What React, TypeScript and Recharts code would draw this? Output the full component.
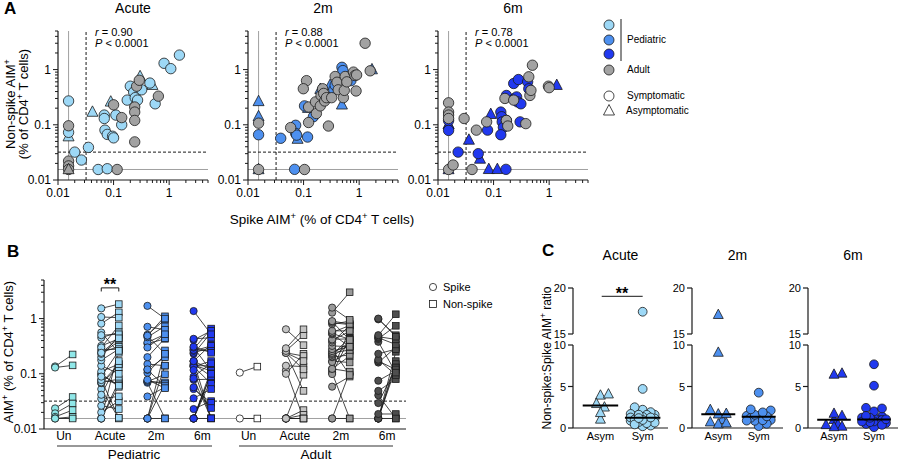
import React from "react";
import { ScatterChart, Scatter, XAxis, YAxis, ReferenceLine } from "recharts";

const FONT = "'Liberation Sans', Arial, Helvetica, sans-serif";
const INK = "#1a1a1a";

// limits of detection / positivity (% of CD4+ T cells)
const LOD = 0.0155;
const POS_CUTOFF = 0.032;

const ACUTE_BLUE = "#9dd8f6";
const MID_BLUE = "#4d90ef";
const DEEP_BLUE = "#2139ef";
const ADULT_GREY = "#a2a2a2";
const UN_CYAN = "#8fe7e8";
const ADULT_TONES = ["#ffffff", "#c4c4c4", "#999999", "#4e4e4e"];

type Pair = [number, number]; // [spike, non-spike]

// pediatric subjects, by time point
const PED_ACUTE_SYM: Pair[] = [
  [0.0155, 0.27], [0.0155, 0.073], [0.02, 0.032], [0.0264, 0.023], [0.0353, 0.039],
  [0.0528, 0.0155], [0.077, 0.016], [0.068, 0.15], [0.068, 0.13], [0.07, 0.08],
  [0.077, 0.067], [0.096, 0.062], [0.1, 0.058], [0.11, 0.15], [0.14, 0.1],
  [0.176, 0.28], [0.2, 0.5], [0.23, 0.39], [0.245, 0.31], [0.27, 0.28],
  [0.32, 0.43], [0.45, 0.57], [0.56, 0.24], [0.81, 1.3], [1.07, 1.04], [1.53, 1.83],
];
const PED_ACUTE_ASYM: Pair[] = [
  [0.0155, 0.061], [0.0417, 0.17], [0.089, 0.26], [0.3, 0.75], [0.5, 0.52], [0.24, 0.44],
];
const PED_2M_SYM: Pair[] = [
  [0.0155, 0.066], [0.0388, 0.057], [0.069, 0.0156], [0.072, 0.098], [0.072, 0.07],
  [0.075, 0.065], [0.104, 0.22], [0.118, 0.06], [0.15, 0.14], [0.35, 0.43],
  [0.37, 0.52], [0.46, 0.73], [0.49, 1.1], [0.51, 0.96], [0.71, 0.63],
];
const PED_2M_ASYM: Pair[] = [
  [0.0155, 0.265], [0.0155, 0.141], [0.0155, 0.0155], [0.078, 0.055],
  [0.12, 0.2], [0.2, 0.44], [0.3, 0.52], [0.49, 0.23], [1.7, 1.0],
];
const PED_6M_SYM: Pair[] = [
  [0.0155, 0.119], [0.0155, 0.079], [0.023, 0.032], [0.053, 0.03], [0.078, 0.08],
  [0.167, 0.0156], [0.135, 0.17], [0.14, 0.14], [0.143, 0.113], [0.15, 0.09],
  [0.135, 0.066], [0.17, 0.12], [0.17, 0.34], [0.23, 0.56], [0.24, 0.3],
  [0.26, 0.32], [0.28, 0.66], [0.27, 0.26], [0.3, 0.113], [0.31, 0.24],
  [0.41, 0.6], [0.43, 0.45],
];
const PED_6M_ASYM: Pair[] = [
  [0.0155, 0.102], [0.0155, 0.1], [0.0155, 0.0155], [0.036, 0.053], [0.057, 0.024],
  [0.089, 0.155], [0.082, 0.0156], [0.117, 0.0156], [1.37, 0.52],
];

// adult subjects, by time point
const ADULT_ACUTE: Pair[] = [
  [0.0155, 0.096], [0.0155, 0.022], [0.0155, 0.018], [0.0155, 0.0155], [0.116, 0.0155],
  [0.1, 0.23], [0.14, 0.135], [0.24, 0.21], [0.24, 0.17], [0.24, 0.12],
  [0.24, 0.049], [0.26, 0.5], [0.29, 0.64], [0.64, 0.33],
];
const ADULT_ACUTE_ASYM: Pair[] = [[0.0155, 0.0155]];
const ADULT_2M: Pair[] = [
  [0.0155, 0.107], [0.0155, 0.0155], [0.0585, 0.089], [0.104, 0.0155], [0.113, 0.63],
  [0.099, 0.45], [0.123, 0.21], [0.123, 0.11], [0.17, 0.16], [0.164, 0.26],
  [0.2, 0.22], [0.206, 0.34], [0.22, 0.45], [0.23, 0.37], [0.24, 0.27],
  [0.258, 0.31], [0.28, 0.095], [0.32, 0.31], [0.37, 0.75], [0.4, 0.59],
  [0.42, 0.43], [0.52, 0.31], [0.54, 0.42], [0.56, 0.75], [0.6, 0.6],
  [0.79, 0.9], [0.84, 0.78], [0.88, 0.41], [0.9, 0.8], [1.28, 3.0], [1.58, 0.95],
];
const ADULT_6M: Pair[] = [
  [0.0155, 0.25], [0.0155, 0.17], [0.0155, 0.15], [0.0155, 0.13], [0.0155, 0.0155],
  [0.0187, 0.0187], [0.0295, 0.13], [0.041, 0.0155], [0.049, 0.08], [0.075, 0.113],
  [0.16, 0.3], [0.17, 0.12], [0.18, 0.095], [0.23, 0.28], [0.38, 0.105],
  [0.43, 0.74], [0.45, 0.34], [0.47, 0.42], [0.5, 1.2], [0.97, 0.5], [1.0, 0.47],
];

// unexposed donors (panel B only)
const PED_UN: Pair[] = [
  [0.136, 0.224], [0.13, 0.142], [0.0236, 0.038], [0.0192, 0.029],
  [0.0166, 0.022], [0.0155, 0.0166], [0.0155, 0.0155],
];
const ADULT_UN: Pair[] = [[0.105, 0.135], [0.0155, 0.0155]];

const TIMEPOINTS = ["Acute", "2m", "6m"];
const R_VALUES = ["0.90", "0.88", "0.78"];
const B_CATEGORIES = ["Un", "Acute", "2m", "6m", "Un", "Acute", "2m", "6m"];
const C_CATEGORIES = ["Asym", "Sym"];

const PED_SYM = [PED_ACUTE_SYM, PED_2M_SYM, PED_6M_SYM];
const PED_ASYM = [PED_ACUTE_ASYM, PED_2M_ASYM, PED_6M_ASYM];
const ADULT = [ADULT_ACUTE, ADULT_2M, ADULT_6M];
const ADULT_ASYM: Pair[][] = [ADULT_ACUTE_ASYM, [], []];
const PED_TONES = [ACUTE_BLUE, MID_BLUE, DEEP_BLUE];

const B_SETS = [
  { pairs: PED_UN, fill: UN_CYAN },
  { pairs: [...PED_ACUTE_SYM, ...PED_ACUTE_ASYM], fill: ACUTE_BLUE },
  { pairs: [...PED_2M_SYM, ...PED_2M_ASYM], fill: MID_BLUE },
  { pairs: [...PED_6M_SYM, ...PED_6M_ASYM], fill: DEEP_BLUE },
  { pairs: ADULT_UN, fill: ADULT_TONES[0] },
  { pairs: [...ADULT_ACUTE, ...ADULT_ACUTE_ASYM], fill: ADULT_TONES[1] },
  { pairs: ADULT_2M, fill: ADULT_TONES[2] },
  { pairs: ADULT_6M, fill: ADULT_TONES[3] },
];

const LOG_DOMAIN: [number, number] = [0.01, 5];
const LOG_MAJOR = [0.01, 0.1, 1];
const LOG_TICKS = LOG_MAJOR.flatMap((d) =>
  [1, 2, 3, 4, 5, 6, 7, 8, 9].map((k) => +(k * d).toPrecision(2))
).filter((v) => v <= LOG_DOMAIN[1]);

const AXIS_LINE = { stroke: INK, strokeWidth: 1.2 };
const txt = { fontFamily: FONT, fill: "#000" };

const pts = (pairs: Pair[]) => pairs.map(([x, y]) => ({ x, y }));

const circle = (fill: string, r: number) => (p: any) => (
  <circle cx={p.cx} cy={p.cy} r={r} fill={fill} stroke={INK} strokeWidth={0.8} />
);
const square = (fill: string, s: number) => (p: any) => (
  <rect x={p.cx - s / 2} y={p.cy - s / 2} width={s} height={s} fill={fill} stroke={INK} strokeWidth={0.8} />
);
const triangle = (fill: string, s: number) => (p: any) => (
  <path
    d={`M${p.cx},${p.cy - 0.62 * s}L${p.cx + 0.55 * s},${p.cy + 0.42 * s}L${p.cx - 0.55 * s},${p.cy + 0.42 * s}Z`}
    fill={fill}
    stroke={INK}
    strokeWidth={0.8}
  />
);
const nothing = () => <g />;

const LogTickX = (p: any) => {
  const v = p.payload.value;
  const major = LOG_MAJOR.includes(v);
  return (
    <g>
      <line x1={p.x} x2={p.x} y1={p.y} y2={p.y + (major ? 5 : 3)} stroke={INK} strokeWidth={1} />
      {major && (
        <text x={p.x} y={p.y + 17} textAnchor="middle" fontSize={12} {...txt}>
          {String(v)}
        </text>
      )}
    </g>
  );
};

const LogTickY = (p: any) => {
  const v = p.payload.value;
  const major = LOG_MAJOR.includes(v);
  return (
    <g>
      <line x1={p.x - (major ? 5 : 3)} x2={p.x} y1={p.y} y2={p.y} stroke={INK} strokeWidth={1} />
      {major && (
        <text x={p.x - 7} y={p.y + 4} textAnchor="end" fontSize={12} {...txt}>
          {String(v)}
        </text>
      )}
    </g>
  );
};

const LinearTickY = (p: any) => (
  <g>
    <line x1={p.x - 5} x2={p.x} y1={p.y} y2={p.y} stroke={INK} strokeWidth={1.2} />
    <text x={p.x - 7} y={p.y + 4} textAnchor="end" fontSize={11} {...txt}>
      {p.payload.value}
    </text>
  </g>
);

const categoryTick = (labels: string[], dy: number, size: number) => (p: any) => (
  <text x={p.x} y={p.y + dy} textAnchor="middle" fontSize={size} {...txt}>
    {labels[p.payload.value]}
  </text>
);

// places a chart so that its plot area lands on the given page rectangle
function Frame({ x, y, w, h, yw, xh, children }: any) {
  const pad = 8;
  return (
    <div style={{ position: "absolute", left: x - yw, top: y - pad }}>
      <ScatterChart
        width={yw + w + pad}
        height={pad + h + xh + pad}
        margin={{ top: pad, right: pad, bottom: pad, left: 0 }}
      >
        {children}
      </ScatterChart>
    </div>
  );
}

function CorrelationPanel({ i }: { i: number }) {
  const tone = PED_TONES[i];
  return (
    <Frame x={58 + i * 190} y={31} w={150} h={149} yw={40} xh={26}>
      <XAxis type="number" dataKey="x" scale="log" domain={LOG_DOMAIN} ticks={LOG_TICKS} interval={0}
        tick={LogTickX} tickLine={false} tickSize={0} tickMargin={0} axisLine={AXIS_LINE} height={26} />
      <YAxis type="number" dataKey="y" scale="log" domain={LOG_DOMAIN} ticks={LOG_TICKS} interval={0}
        tick={LogTickY} tickLine={false} tickSize={0} tickMargin={0} axisLine={AXIS_LINE} width={40} />
      <ReferenceLine x={LOD} stroke="#a0a0a0" strokeWidth={1} />
      <ReferenceLine y={LOD} stroke="#a0a0a0" strokeWidth={1} />
      <ReferenceLine x={POS_CUTOFF} stroke={INK} strokeWidth={1} strokeDasharray="3 2" />
      <ReferenceLine y={POS_CUTOFF} stroke={INK} strokeWidth={1} strokeDasharray="3 2" />
      <Scatter data={pts(PED_ASYM[i])} shape={triangle(tone, 10)} isAnimationActive={false} />
      <Scatter data={pts(PED_SYM[i])} shape={circle(tone, 5.2)} isAnimationActive={false} />
      <Scatter data={pts(ADULT[i])} shape={circle(ADULT_GREY, 5.2)} isAnimationActive={false} />
      <Scatter data={pts(ADULT_ASYM[i])} shape={triangle(ADULT_GREY, 10)} isAnimationActive={false} />
    </Frame>
  );
}

const B_OFFSET = 0.19;

function PairedPanel() {
  return (
    <Frame x={44} y={280} w={362} h={149} yw={40} xh={22}>
      <XAxis type="number" dataKey="x" domain={[-0.43, 7.41]} ticks={B_CATEGORIES.map((_, k) => k)} interval={0}
        tick={categoryTick(B_CATEGORIES, 11, 12)} tickLine={false} tickSize={0} tickMargin={0} axisLine={AXIS_LINE} height={22} />
      <YAxis type="number" dataKey="y" scale="log" domain={LOG_DOMAIN} ticks={LOG_TICKS} interval={0}
        tick={LogTickY} tickLine={false} tickSize={0} tickMargin={0} axisLine={AXIS_LINE} width={40} />
      <ReferenceLine y={LOD} stroke="#a0a0a0" strokeWidth={1} />
      <ReferenceLine y={POS_CUTOFF} stroke={INK} strokeWidth={1} strokeDasharray="3 2" />
      {B_SETS.flatMap((set, k) =>
        set.pairs.map(([s, n], j) => (
          <ReferenceLine key={`l${k}-${j}`} segment={[{ x: k - B_OFFSET, y: s }, { x: k + B_OFFSET, y: n }]}
            stroke={INK} strokeWidth={0.8} />
        ))
      )}
      {B_SETS.map((set, k) => (
        <Scatter key={`c${k}`} data={set.pairs.map(([s]) => ({ x: k - B_OFFSET, y: s }))}
          shape={circle(set.fill, 3.6)} isAnimationActive={false} />
      ))}
      {B_SETS.map((set, k) => (
        <Scatter key={`s${k}`} data={set.pairs.map(([, n]) => ({ x: k + B_OFFSET, y: n }))}
          shape={square(set.fill, 6.6)} isAnimationActive={false} />
      ))}
      {/* significance bracket over pediatric acute */}
      <ReferenceLine segment={[{ x: 1 - B_OFFSET, y: 3.6 }, { x: 1 + B_OFFSET, y: 3.6 }]} stroke={INK} strokeWidth={1} />
      <ReferenceLine segment={[{ x: 1 - B_OFFSET, y: 3.6 }, { x: 1 - B_OFFSET, y: 3.1 }]} stroke={INK} strokeWidth={1} />
      <ReferenceLine segment={[{ x: 1 + B_OFFSET, y: 3.6 }, { x: 1 + B_OFFSET, y: 3.1 }]} stroke={INK} strokeWidth={1} />
    </Frame>
  );
}

// simple beeswarm: nudge points sideways (in px) until they stop piling up
function swarm(values: number[], center: number, pxPerY: number, pxPerX: number) {
  const placed: { dx: number; py: number }[] = [];
  const out: { x: number; y: number }[] = new Array(values.length);
  const order = values.map((_, k) => k).sort((a, b) => values[a] - values[b]);
  for (const k of order) {
    const py = values[k] * pxPerY;
    let best = 0;
    let bestGap = -1;
    for (const dx of [0, 4, -4, 8, -8, 12, -12]) {
      const gap = Math.min(Infinity, ...placed.map((q) => Math.hypot(q.dx - dx, q.py - py)));
      if (gap >= 6) {
        best = dx;
        break;
      }
      if (gap > bestGap) {
        bestGap = gap;
        best = dx;
      }
    }
    placed.push({ dx: best, py });
    out[k] = { x: center + best / pxPerX, y: values[k] };
  }
  return out;
}

const median = (v: number[]) => {
  const s = [...v].sort((a, b) => a - b);
  const m = Math.floor(s.length / 2);
  return s.length % 2 ? s[m] : (s[m - 1] + s[m]) / 2;
};

const C_LEFT = [573, 692, 808];
const C_WIDTH = [95, 91, 90];
const C_DOMAIN: [number, number] = [-0.65, 1.6];
const LOWER: [number, number] = [0, 10];
const UPPER: [number, number] = [15, 20];

function RatioPanel({ i }: { i: number }) {
  const left = C_LEFT[i];
  const w = C_WIDTH[i];
  const pxPerX = w / (C_DOMAIN[1] - C_DOMAIN[0]);
  const tone = PED_TONES[i];
  const shapes = [triangle(tone, 9), circle(tone, 4.4)];
  const groups = [PED_ASYM[i], PED_SYM[i]].map((pairs, g) => {
    const ratios = pairs.map(([s, n]) => n / s);
    return { g, points: swarm(ratios, g, 8.3, pxPerX), med: median(ratios) };
  });
  return (
    <>
      <Frame x={left} y={288} w={w} h={46} yw={30} xh={0}>
        <XAxis type="number" dataKey="x" domain={C_DOMAIN} allowDataOverflow hide />
        <YAxis type="number" dataKey="y" domain={UPPER} allowDataOverflow ticks={UPPER} interval={0} tick={LinearTickY}
          tickLine={false} tickSize={0} tickMargin={0} axisLine={AXIS_LINE} width={30} />
        {i === 0 && (
          <ReferenceLine segment={[{ x: 0.03, y: 19.1 }, { x: 1, y: 19.1 }]} stroke="#444" strokeWidth={1.2} />
        )}
        {groups.map((gr) => (
          <Scatter key={gr.g} data={gr.points.filter((p) => p.y > LOWER[1])} shape={shapes[gr.g]}
            isAnimationActive={false} />
        ))}
      </Frame>
      <Frame x={left} y={345} w={w} h={83} yw={30} xh={22}>
        <XAxis type="number" dataKey="x" domain={C_DOMAIN} ticks={[0, 1]} interval={0}
          tick={categoryTick(C_CATEGORIES, 12, 11)} tickLine={false} tickSize={0} tickMargin={0}
          axisLine={AXIS_LINE} height={22} />
        <YAxis type="number" dataKey="y" domain={LOWER} ticks={[0, 5, 10]} interval={0} tick={LinearTickY}
          tickLine={false} tickSize={0} tickMargin={0} axisLine={AXIS_LINE} width={30} />
        {groups.map((gr) => (
          <Scatter key={gr.g} data={gr.points.filter((p) => p.y <= LOWER[1])} shape={shapes[gr.g]}
            isAnimationActive={false} />
        ))}
        {groups.map((gr) => (
          <Scatter key={`m${gr.g}`} data={[{ x: gr.g - 0.42, y: gr.med }, { x: gr.g + 0.42, y: gr.med }]}
            line={{ stroke: "#000", strokeWidth: 2 }} shape={nothing} isAnimationActive={false} />
        ))}
      </Frame>
    </>
  );
}

// text with superscript "+" marks: every odd part is raised
const Raised = ({ parts }: { parts: string[] }) => (
  <>
    {parts.map((s, k) =>
      k % 2 ? (
        <tspan key={k} dy={-5} fontSize="70%">{s}</tspan>
      ) : (
        <tspan key={k} dy={k ? 5 : 0}>{s}</tspan>
      )
    )}
  </>
);

function Labels() {
  return (
    <svg width={900} height={461} style={{ position: "absolute", left: 0, top: 0, pointerEvents: "none" }}>
      <text x={4} y={14} fontSize={17} fontWeight={700} {...txt}>A</text>
      <text x={7} y={257} fontSize={17} fontWeight={700} {...txt}>B</text>
      <text x={542} y={256} fontSize={17} fontWeight={700} {...txt}>C</text>

      {TIMEPOINTS.map((tp, i) => (
        <text key={`a${tp}`} x={133 + i * 190} y={13} textAnchor="middle" fontSize={14} {...txt}>{tp}</text>
      ))}
      {R_VALUES.map((r, i) => (
        <g key={r}>
          <text x={95 + i * 190} y={36} fontSize={11} {...txt}>
            <tspan fontStyle="italic">r</tspan> = {r}
          </text>
          <text x={95 + i * 190} y={47} fontSize={11} {...txt}>
            <tspan fontStyle="italic">P</tspan> {"< 0.0001"}
          </text>
        </g>
      ))}

      <g transform="translate(15,104) rotate(-90)">
        <text textAnchor="middle" fontSize={13} {...txt}><Raised parts={["Non-spike AIM", "+"]} /></text>
      </g>
      <g transform="translate(28,104) rotate(-90)">
        <text textAnchor="middle" fontSize={13} {...txt}><Raised parts={["(% of CD4", "+", " T cells)"]} /></text>
      </g>
      <text x={322} y={224} textAnchor="middle" fontSize={13.5} {...txt}>
        <Raised parts={["Spike AIM", "+", " (% of CD4", "+", " T cells)"]} />
      </text>

      {/* cohort legend */}
      {[ACUTE_BLUE, MID_BLUE, DEEP_BLUE, ADULT_GREY].map((c, k) => (
        <circle key={c} cx={609} cy={[25, 40, 54, 70][k]} r={5} fill={c} stroke={INK} strokeWidth={0.8} />
      ))}
      <line x1={621} x2={621} y1={19} y2={61} stroke={INK} strokeWidth={1} />
      <text x={627} y={43} fontSize={10} {...txt}>Pediatric</text>
      <text x={627} y={73} fontSize={10} {...txt}>Adult</text>
      <circle cx={609} cy={96} r={5} fill="#fff" stroke={INK} strokeWidth={0.8} />
      <path d="M609,104.5L614.5,115L603.5,115Z" fill="#fff" stroke={INK} strokeWidth={0.8} />
      <text x={627} y={99} fontSize={10} {...txt}>Symptomatic</text>
      <text x={626} y={114} fontSize={10} {...txt}>Asymptomatic</text>

      {/* panel B */}
      <g transform="translate(13,352) rotate(-90)">
        <text textAnchor="middle" fontSize={13} {...txt}><Raised parts={["AIM", "+", " (% of CD4", "+", " T cells)"]} /></text>
      </g>
      <text x={110} y={290} textAnchor="middle" fontSize={16} fontWeight={700} {...txt}>**</text>
      <circle cx={433} cy={287} r={3.6} fill="#fff" stroke={INK} strokeWidth={0.8} />
      <rect x={429.5} y={300.5} width={7} height={7} fill="#fff" stroke={INK} strokeWidth={0.8} />
      <text x={443} y={291} fontSize={11} {...txt}>Spike</text>
      <text x={443} y={308} fontSize={11} {...txt}>Non-spike</text>
      <line x1={57} x2={212} y1={446} y2={446} stroke="#333" strokeWidth={1.2} />
      <line x1={239} x2={393} y1={446} y2={446} stroke="#333" strokeWidth={1.2} />
      <text x={134} y={459} textAnchor="middle" fontSize={13.5} {...txt}>Pediatric</text>
      <text x={316} y={459} textAnchor="middle" fontSize={13.5} {...txt}>Adult</text>

      {/* panel C */}
      {TIMEPOINTS.map((tp, i) => (
        <text key={`c${tp}`} x={C_LEFT[i] + C_WIDTH[i] / 2} y={260} textAnchor="middle" fontSize={14} {...txt}>
          {tp}
        </text>
      ))}
      <text x={622} y={299} textAnchor="middle" fontSize={16} fontWeight={700} {...txt}>**</text>
      <g transform="translate(551,358) rotate(-90)">
        <text textAnchor="middle" fontSize={12} {...txt}><Raised parts={["Non-spike:Spike AIM", "+", " ratio"]} /></text>
      </g>
    </svg>
  );
}

export default function App() {
  return (
    <div
      style={{
        position: "absolute",
        left: 0,
        top: 0,
        width: 900,
        height: 461,
        background: "#fff",
        fontFamily: FONT,
        overflow: "hidden",
      }}
    >
      {TIMEPOINTS.map((tp, i) => (
        <CorrelationPanel key={tp} i={i} />
      ))}
      <PairedPanel />
      {TIMEPOINTS.map((tp, i) => (
        <RatioPanel key={`r${tp}`} i={i} />
      ))}
      <Labels />
    </div>
  );
}
